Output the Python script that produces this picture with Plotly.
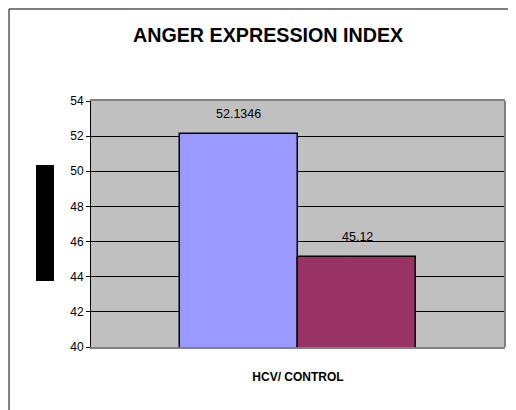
"""Anger expression index: HCV vs control bar chart."""
from plotly import graph_objects as go

groups = ["HCV", "CONTROL"]
values = [52.1346, 45.12]
value_labels = ["52.1346", "45.12"]
bar_colours = ["#9999FF", "#993366"]
y_ticks = [40, 42, 44, 46, 48, 50, 52, 54]

FONT = "Liberation Sans, Arial, sans-serif"

fig = go.Figure()
fig.add_trace(
    go.Bar(
        x=groups,
        y=values,
        width=1,
        marker={"color": bar_colours, "line": {"color": "black", "width": 1.5}},
        hoverinfo="skip",
    )
)

for group, value, label in zip(groups, values, value_labels):
    fig.add_annotation(
        x=group,
        y=value,
        text=label,
        showarrow=False,
        yanchor="middle",
        yshift=20,
        font={"family": FONT, "size": 12.5, "color": "black"},
    )

# the page body adds an 8px offset, so the figure is 8px smaller than the window
fig.update_layout(
    width=508,
    height=402,
    margin={"l": 83, "r": 11, "t": 93, "b": 63},
    paper_bgcolor="white",
    plot_bgcolor="#C0C0C0",
    showlegend=False,
    bargap=0,
    title={
        "text": "<b>ANGER EXPRESSION INDEX</b>",
        "x": 0.512,
        "xanchor": "center",
        "y": 0.9329,
        "yanchor": "middle",
        "font": {"family": FONT, "size": 19.7, "color": "black"},
    },
    xaxis={
        "range": [-1.254, 2.254],
        "showticklabels": False,
        "showgrid": False,
        "showline": True,
        "linecolor": "#808080",
        "linewidth": 2,
        "mirror": True,
        "title": {
            "text": "<b>HCV/ CONTROL</b>",
            "standoff": 25,
            "font": {"family": FONT, "size": 12, "color": "black"},
        },
    },
    yaxis={
        "range": [40, 54],
        "tickvals": y_ticks,
        "showgrid": True,
        "gridcolor": "black",
        "gridwidth": 1,
        "zeroline": False,
        "showline": True,
        "linecolor": "black",
        "linewidth": 1,
        "ticks": "outside",
        "ticklen": 4,
        "tickcolor": "black",
        "tickfont": {"family": FONT, "size": 12, "color": "black"},
    },
)

# right edge of the plot frame
fig.add_shape(
    type="line", xref="paper", yref="paper", x0=1, x1=1, y0=0, y1=1,
    line={"color": "#808080", "width": 2},
)
# blacked-out y axis title
fig.add_shape(
    type="rect", xref="paper", yref="paper",
    x0=-0.1329, x1=-0.0894, y0=0.2683, y1=0.7398,
    fillcolor="black", line={"width": 0},
)
# outer chart frame (left and top only visible)
fig.add_shape(
    type="rect", xref="paper", yref="paper",
    x0=-0.198, x1=1.2, y0=-0.4, y1=1.374,
    line={"color": "black", "width": 1},
)

fig.write_html("out.html")
